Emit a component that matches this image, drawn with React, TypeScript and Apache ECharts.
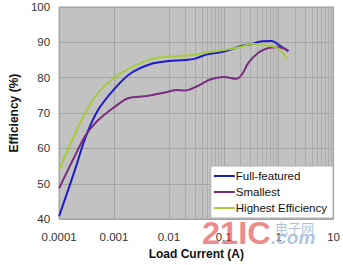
import React, { useEffect, useRef } from "react";
import * as echarts from "echarts";

const seriesNames = ["Full-featured", "Smallest", "Highest Efficiency"];

const fullX = [0.0001, 0.0002, 0.0003, 0.0005, 0.001, 0.002, 0.005, 0.01, 0.02, 0.03, 0.05, 0.1, 0.2, 0.33, 0.5, 0.75, 1.0, 1.5];
const fullY = [40.8, 54.5, 63, 70.6, 76.7, 81.2, 84, 84.7, 85.0, 85.4, 86.6, 87.4, 88.9, 89.6, 90.3, 90.4, 89.3, 87.5];

const smallX = [0.0001, 0.0002, 0.0003, 0.0005, 0.001, 0.0018, 0.004, 0.009, 0.014, 0.02, 0.035, 0.055, 0.1, 0.17, 0.22, 0.28, 0.42, 0.62, 0.9, 1.2, 1.5];
const smallY = [48.7, 58.3, 63.6, 67.8, 71.6, 74.2, 74.8, 75.9, 76.5, 76.4, 77.8, 79.4, 80.2, 79.7, 81.2, 84.2, 87.0, 88.3, 88.6, 88.4, 87.6];

const effX = [0.0001, 0.0002, 0.0003, 0.0005, 0.001, 0.002, 0.005, 0.014, 0.03, 0.05, 0.1, 0.16, 0.22, 0.32, 0.48, 0.8, 1.05, 1.45];
const effY = [54, 64.5, 70, 75.5, 80, 82.8, 85.4, 86.1, 86.5, 87.2, 87.8, 88.4, 88.8, 89.6, 89.3, 88.8, 87.9, 85.1];

const xTickLabels = ["0.0001", "0.001", "0.01", "0.1", "1", "10"];
const yTickLabels = ["40", "50", "60", "70", "80", "90", "100"];
const decades = [0.0001, 0.001, 0.01, 0.1, 1];
const minorMultipliers = [2, 3, 4, 5, 6, 7, 8, 9];

const colors = ["#1c1cc8", "#7a2c7e", "#a6cc3c"];
const font = "'Liberation Sans', Arial, sans-serif";

function pairs(xs: number[], ys: number[]) {
  return xs.map((x, i) => [x, ys[i]]);
}

export default function App() {
  const ref = useRef<HTMLDivElement>(null);
  useEffect(() => {
    if (!ref.current) return;
    const chart = echarts.init(ref.current, null, { renderer: "svg" });
    const minorLines: any[] = [];
    decades.forEach((d) => minorMultipliers.forEach((m) => minorLines.push({ xAxis: d * m })));
    const mkSeries = (name: string, xs: number[], ys: number[], color: string) => ({
      name,
      type: "line",
      data: pairs(xs, ys),
      smooth: 0.35,
      symbol: "none",
      z: 3,
      lineStyle: { color, width: 2 },
      itemStyle: { color },
    });
    chart.setOption({
      animation: false,
      textStyle: { fontFamily: font },
      grid: {
        left: 46,
        right: 6,
        top: 7,
        bottom: 44,
        show: true,
        backgroundColor: "#c2c2c2",
        borderColor: "#9a9a9a",
        borderWidth: 1,
      },
      xAxis: {
        type: "log",
        logBase: 10,
        min: 0.0001,
        max: 10,
        name: "Load Current (A)",
        nameLocation: "middle",
        nameGap: 28,
        nameTextStyle: { fontWeight: "bold", fontSize: 12, color: "#111", fontFamily: font },
        axisLine: { show: false },
        axisTick: { show: false },
        axisLabel: {
          fontSize: 11.5,
          color: "#333",
          margin: 12,
          fontFamily: font,
          formatter: (v: number) => xTickLabels[Math.round(Math.log10(v)) + 4] ?? "",
        },
        splitLine: { show: true, lineStyle: { color: "#a4a4a4", width: 1 } },
      },
      yAxis: {
        type: "value",
        min: 40,
        max: 100,
        interval: 10,
        name: "Efficiency (%)",
        nameLocation: "middle",
        nameGap: 38,
        nameTextStyle: { fontWeight: "bold", fontSize: 12, color: "#111", fontFamily: font },
        axisLine: { show: false },
        axisTick: { show: false },
        axisLabel: {
          fontSize: 11.5,
          color: "#333",
          margin: 9,
          fontFamily: font,
          formatter: (v: number) => yTickLabels[Math.round((v - 40) / 10)] ?? "",
        },
        splitLine: { show: true, lineStyle: { color: "#a4a4a4", width: 1 } },
      },
      legend: {
        data: seriesNames,
        orient: "vertical",
        right: 10,
        top: 166,
        z: 10,
        backgroundColor: "#ffffff",
        borderColor: "#b0b0b0",
        borderWidth: 1,
        borderRadius: 0,
        padding: [4, 6, 4, 3],
        itemGap: 4,
        itemWidth: 21,
        itemHeight: 2,
        icon: "rect",
        textStyle: { fontSize: 11.5, color: "#111", fontFamily: font, padding: [0, 0, 0, -4] },
      },
      series: [
        {
          name: "minorGrid",
          type: "line",
          data: [],
          z: 1,
          silent: true,
          markLine: {
            z: 1,
            silent: true,
            symbol: "none",
            label: { show: false },
            emphasis: { disabled: true },
            lineStyle: { color: "#acacac", width: 1, type: "solid" },
            data: minorLines,
          },
        },
        mkSeries(seriesNames[0], fullX, fullY, colors[0]),
        mkSeries(seriesNames[1], smallX, smallY, colors[1]),
        mkSeries(seriesNames[2], effX, effY, colors[2]),
      ],
      graphic: [
        {
          type: "text",
          left: 202,
          top: 218,
          z: 100,
          style: {
            text: "21IC",
            fontSize: 31,
            fontWeight: 900,
            fontFamily: font,
            fill: "rgba(226,60,60,0.6)",
          },
          scaleX: 1.05,
        },
        {
          type: "text",
          left: 275,
          top: 221,
          z: 100,
          style: {
            text: "电子网",
            fontSize: 13,
            fontFamily: "'Noto Sans CJK SC', sans-serif",
            fill: "rgba(150,175,215,0.75)",
          },
        },
        {
          type: "text",
          left: 271,
          top: 228,
          z: 100,
          style: {
            text: ".com",
            fontSize: 19,
            fontWeight: "bold",
            fontStyle: "italic",
            fontFamily: font,
            fill: "rgba(150,175,215,0.75)",
          },
        },
      ],
    });
    return () => chart.dispose();
  }, []);
  return (
    <div
      ref={ref}
      style={{ position: "fixed", left: 0, top: 0, width: 343, height: 265, background: "#fff" }}
    />
  );
}
